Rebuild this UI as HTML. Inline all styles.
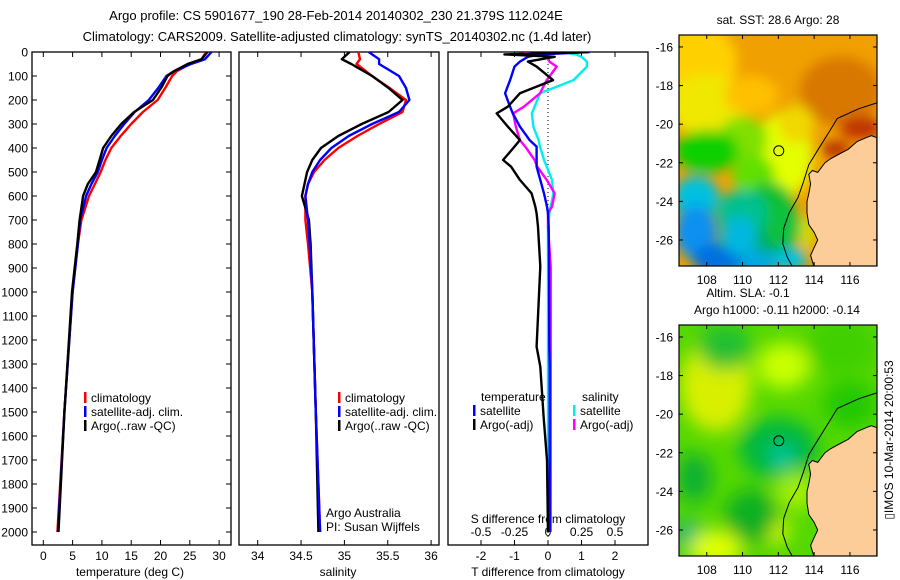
<!DOCTYPE html>
<html><head><meta charset="utf-8"><style>
html,body{margin:0;padding:0;background:#fff;}
svg{display:block;font-family:"Liberation Sans",sans-serif;}
</style></head><body>
<svg id="chart" width="900" height="580" viewBox="0 0 900 580" xmlns="http://www.w3.org/2000/svg">
<defs>
<clipPath id="c1"><rect x="32" y="52" width="199" height="493"/></clipPath>
<clipPath id="c2"><rect x="239" y="52" width="200" height="493"/></clipPath>
<clipPath id="c3"><rect x="448" y="52" width="200" height="493"/></clipPath>
<clipPath id="cm1"><rect x="679" y="35" width="198" height="231"/></clipPath>
<clipPath id="cm2"><rect x="679" y="325" width="198" height="231"/></clipPath>
<filter id="bl" x="-50%" y="-50%" width="200%" height="200%"><feGaussianBlur stdDeviation="6"/></filter>
<filter id="bl2" x="-50%" y="-50%" width="200%" height="200%"><feGaussianBlur stdDeviation="9"/></filter>
</defs>
<text x="336" y="20" font-size="13" text-anchor="middle">Argo profile: CS 5901677_190 28-Feb-2014 20140302_230 21.379S 112.024E</text>
<text x="337" y="41" font-size="13" text-anchor="middle">Climatology: CARS2009. Satellite-adjusted climatology: synTS_20140302.nc (1.4d later)</text>
<g id="p1"></g>
<g id="p2"></g>
<g id="p3"></g>
<g id="m1"></g>
<g id="m2"></g>
<text transform="translate(893,440) rotate(-90)" font-size="12" text-anchor="middle">▯IMOS 10-Mar-2014 20:00:53</text>
</svg>
<script>
// ---- data ----
const depthTicks=[0,100,200,300,400,500,600,700,800,900,1000,1100,1200,1300,1400,1500,1600,1700,1800,1900,2000];
const tempTicks=[0,5,10,15,20,25,30];
const salTicks=[34,34.5,35,35.5,36];
const tdiffTicks=[-2,-1,0,1,2];
const sdiffTicks=[-0.5,-0.25,0,0.25,0.5];
const sdiffLabels=["-0.5","-0.25","0","0.25","0.5"];
const tDepth=[0,30,50,80,100,150,200,250,300,350,400,450,500,550,600,700,800,1000,1500,2000];
const tClim=[27.8,27.0,25.0,22.8,22.0,20.8,19.5,17.0,15.0,13.2,11.6,10.6,9.8,8.8,7.8,6.5,5.9,5.0,3.6,2.4];
const tSat =[28.7,27.6,25.2,22.3,21.0,19.6,18.0,15.6,13.8,12.2,10.8,10.0,9.3,8.2,7.3,6.3,5.9,5.0,3.6,2.5];
const tArgo=[28.0,27.0,24.6,22.3,21.2,20.1,18.7,15.5,13.3,11.6,10.2,9.6,9.0,7.6,6.8,6.2,5.8,4.9,3.6,2.6];
const sDepth=[0,30,50,100,150,200,250,300,350,400,450,500,550,600,700,800,1000,1500,2000];
const sClim=[35.16,35.18,35.14,35.32,35.52,35.71,35.67,35.40,35.15,34.93,34.77,34.65,34.58,34.55,34.55,34.58,34.63,34.67,34.72];
const sSat =[35.28,35.40,35.40,35.63,35.71,35.75,35.63,35.32,35.05,34.85,34.72,34.63,34.58,34.55,34.58,34.60,34.63,34.67,34.72];
const sArgo=[35.06,34.97,35.08,35.32,35.51,35.67,35.51,35.20,34.93,34.73,34.63,34.57,34.54,34.51,34.59,34.61,34.63,34.67,34.70];
const dDepth=[0,10,20,40,61,117,172,228,256,311,367,394,450,478,533,589,644,672,728,894,1228,1311,1519,1700,2000];
const dtArgo=[1.2,-1.3,0.2,-0.6,-0.34,0.15,-0.84,-1.2,-1.53,-1.2,-0.84,-1.0,-1.34,-1.1,-0.84,-0.49,-0.38,-0.34,-0.3,-0.23,-0.34,-0.23,-0.13,-0.03,0.0];
const dtSat =[1.25,-0.23,-0.6,-0.84,-1.0,-1.13,-1.28,-1.13,-1.05,-0.84,-0.55,-0.34,-0.34,-0.34,-0.23,-0.12,-0.03,0.0,0.02,0.03,0.04,0.05,0.05,0.05,0.05];
const dsSat =[0.11,0.21,0.25,0.29,0.29,0.19,-0.06,-0.1,-0.12,-0.11,-0.07,-0.06,-0.03,-0.01,0.03,0.04,0.02,0.01,0.0,0.0,0.0,0.0,0.0,0.0,0.0];
const dsArgo=[-0.18,-0.1,0.0,0.01,0.065,-0.01,-0.06,-0.18,-0.26,-0.24,-0.21,-0.17,-0.1,-0.08,-0.01,0.05,0.03,0.0,0.0,0.02,0.02,0.02,0.02,0.02,0.02];
const lonTicks=[108,110,112,114,116];
const latTicks=[-16,-18,-20,-22,-24,-26];
const argoLon=[112.024], argoLat=[-21.379];
const coast=[[117.5,-20.7],[117.2,-20.6],[116.9,-20.7],[116.4,-20.9],[115.9,-21.3],[115.3,-21.6],[114.9,-21.8],[114.6,-22.0],[114.2,-22.5],[113.9,-22.4],[113.7,-22.6],[113.8,-23.1],[113.7,-23.6],[113.6,-24.0],[113.6,-24.6],[113.7,-25.2],[114.0,-25.6],[114.2,-26.0],[114.0,-26.4],[113.8,-26.8],[114.0,-27.4],[117.5,-27.4]];
const shelf=[[117.5,-18.9],[116.5,-19.2],[115.3,-19.7],[114.9,-20.3],[114.3,-21.2],[113.7,-22.1],[113.4,-23.0],[113.1,-23.8],[112.6,-24.6],[112.3,-25.4],[112.25,-26.2],[112.5,-26.9],[112.8,-27.4]];

const S=document.getElementById('chart');
const NS='http://www.w3.org/2000/svg';
function mk(parent,tag,attrs,txt){const e=document.createElementNS(NS,tag);for(const k in attrs)e.setAttribute(k,attrs[k]);if(txt!==undefined)e.textContent=txt;parent.appendChild(e);return e;}
const yD=d=>52+0.24*d;
const xT=t=>43.3+5.86*t;
const xS=s=>257.7+86.7*(s-34);
const xdT=t=>548+33.5*t;
const xdS=s=>548+134*s;

function frame(g,x0,x1,name){const r=mk(g,'rect',{x:x0,y:52,width:x1-x0,height:493,fill:'none',stroke:'#000','stroke-width':1.3});}
function xaxis(g,ticks,fx,labels,ly){ticks.forEach((t,i)=>{const x=fx(t);mk(g,'line',{x1:x,x2:x,y1:52,y2:57,stroke:'#000'});mk(g,'line',{x1:x,x2:x,y1:540,y2:545,stroke:'#000'});const tx=mk(g,'text',{x:x,y:ly,'font-size':12,'text-anchor':'middle'},labels?labels[i]:String(t));});}
function line(g,xs,ds,fx,color,w,clip,name){const p=xs.map((v,i)=>fx(v).toFixed(1)+','+yD(ds[i]).toFixed(1)).join(' ');const e=mk(g,'polyline',{points:p,fill:'none',stroke:color,'stroke-width':w,'clip-path':'url(#'+clip+')','stroke-linejoin':'round'});}
function legend(g,x,y,items){items.forEach((it,i)=>{mk(g,'rect',{x:x,y:y+i*14-10,width:2.5,height:11,fill:it[1]});const t=mk(g,'text',{x:x+7,y:y+i*14,'font-size':12},it[0]);});}

// Panel 1
const p1=document.getElementById('p1');
frame(p1,32,231,'temperature-plot-frame');
depthTicks.forEach(d=>{const y=yD(d);mk(p1,'line',{x1:32,x2:37,y1:y,y2:y,stroke:'#000'});mk(p1,'line',{x1:226,x2:231,y1:y,y2:y,stroke:'#000'});const t=mk(p1,'text',{x:28,y:y+4.5,'font-size':12,'text-anchor':'end'},String(d));});
xaxis(p1,tempTicks,xT,null,560);
const xl1=mk(p1,'text',{x:130,y:576,'font-size':12,'text-anchor':'middle'},'temperature (deg C)');
line(p1,tClim,tDepth,xT,'#f00',2.4,'c1','temp-climatology-line');
line(p1,tSat,tDepth,xT,'#00f',2.4,'c1','temp-satellite-line');
line(p1,tArgo,tDepth,xT,'#000',2.4,'c1','temp-argo-line');
legend(p1,84,402,[['climatology','#f00'],['satellite-adj. clim.','#00f'],['Argo(..raw -QC)','#000']]);

// Panel 2
const p2=document.getElementById('p2');
frame(p2,239,439,'salinity-plot-frame');
xaxis(p2,salTicks,xS,null,560);
const xl2=mk(p2,'text',{x:338,y:576,'font-size':12,'text-anchor':'middle'},'salinity');
line(p2,sClim,sDepth,xS,'#f00',2.4,'c2','sal-climatology-line');
line(p2,sArgo,sDepth,xS,'#000',2.4,'c2','sal-argo-line');
line(p2,sSat,sDepth,xS,'#00f',2.4,'c2','sal-satellite-line');
legend(p2,338,402,[['climatology','#f00'],['satellite-adj. clim.','#00f'],['Argo(..raw -QC)','#000']]);
let t=mk(p2,'text',{x:326,y:517,'font-size':12},'Argo Australia');
t=mk(p2,'text',{x:326,y:531,'font-size':12},'PI: Susan Wijffels');

// Panel 3
const p3=document.getElementById('p3');
frame(p3,448,648,'difference-plot-frame');
mk(p3,'line',{x1:548,x2:548,y1:52,y2:545,stroke:'#000','stroke-dasharray':'1,3'});
xaxis(p3,tdiffTicks,xdT,null,560);
sdiffTicks.forEach((s,i)=>{const tx=mk(p3,'text',{x:xdS(s),y:536,'font-size':12,'text-anchor':'middle'},sdiffLabels[i]);});
t=mk(p3,'text',{x:548,y:523,'font-size':12,'text-anchor':'middle'},'S difference from climatology');
t=mk(p3,'text',{x:548,y:576,'font-size':12,'text-anchor':'middle'},'T difference from climatology');
line(p3,dsSat,dDepth,xdS,'#0ee',2.4,'c3','sal-diff-satellite-line');
line(p3,dsArgo,dDepth,xdS,'#f0f',2.4,'c3','sal-diff-argo-line');
line(p3,dtSat,dDepth,xdT,'#00f',2.4,'c3','temp-diff-satellite-line');
line(p3,dtArgo,dDepth,xdT,'#000',2.4,'c3','temp-diff-argo-line');
t=mk(p3,'text',{x:481,y:401,'font-size':12},'temperature');
t=mk(p3,'text',{x:582,y:401,'font-size':12},'salinity');
legend(p3,473,415,[['satellite','#00f'],['Argo(-adj)','#000']]);
legend(p3,573,415,[['satellite','#0ee'],['Argo(-adj)','#f0f']]);

// Maps
function map(gid,y0,clip,blobs,bg,titles,filt){
  const g=document.getElementById(gid);
  const fx=lon=>679+(lon-106.45)*17.9, fy=lat=>y0+(-15.38-lat)*19.3;
  mk(g,'rect',{x:679,y:y0,width:198,height:231,fill:bg});
  const bgg=mk(g,'g',{'clip-path':'url(#'+clip+')'});
  const inner=mk(bgg,'g',{filter:'url(#'+filt+')'});
  blobs.forEach(b=>mk(inner,'ellipse',{cx:fx(b[0]),cy:fy(b[1]),rx:b[2]*17.9,ry:b[3]*19.3,fill:b[4]}));
  const cg=mk(g,'g',{'clip-path':'url(#'+clip+')'});
  const land=mk(cg,'polygon',{points:coast.map(p=>fx(p[0]).toFixed(1)+','+fy(p[1]).toFixed(1)).join(' '),fill:'#fccc99',stroke:'#000','stroke-width':1});
  
  mk(cg,'polyline',{points:shelf.map(p=>fx(p[0]).toFixed(1)+','+fy(p[1]).toFixed(1)).join(' '),fill:'none',stroke:'#000','stroke-width':1});
  const c=mk(g,'circle',{cx:fx(argoLon[0]),cy:fy(argoLat[0]),r:5,fill:'none',stroke:'#000','stroke-width':1});
  
  mk(g,'rect',{x:679,y:y0,width:198,height:231,fill:'none',stroke:'#000','stroke-width':1.2});
  lonTicks.forEach(l=>{const x=fx(l);mk(g,'line',{x1:x,x2:x,y1:y0,y2:y0+4,stroke:'#000'});mk(g,'line',{x1:x,x2:x,y1:y0+227,y2:y0+231,stroke:'#000'});const tx=mk(g,'text',{x:x,y:y0+249,'font-size':12,'text-anchor':'middle'},String(l));});
  latTicks.forEach(l=>{const y=fy(l);mk(g,'line',{x1:679,x2:683,y1:y,y2:y,stroke:'#000'});mk(g,'line',{x1:873,x2:877,y1:y,y2:y,stroke:'#000'});const tx=mk(g,'text',{x:673,y:y+4.5,'font-size':12,'text-anchor':'end'},String(l));});
  titles.forEach((tt,i)=>{const tx=mk(g,'text',{x:tt[1],y:tt[2],'font-size':12,'text-anchor':'middle'},tt[0]);});
}
map('m1',35,'cm1',[
 [107.5,-16.8,2.2,2,'#ffd000'],[108,-19,2.2,1.6,'#f0e800'],[110.5,-18.5,1.5,1,'#ffc000'],
 [115.5,-18.3,2.3,1.8,'#d87800'],[116.6,-20.2,1.2,0.6,'#c03000'],[115.2,-21.3,0.8,0.4,'#b02800'],
 [112.3,-21.6,1.6,2.2,'#e4ff00'],[113,-20,1,1,'#f0d800'],
 [110,-20.8,1.4,1.2,'#80e000'],[108,-21.4,1.8,1.1,'#10d000'],[110.6,-22.6,1.2,1,'#60e000'],
 [111.5,-24.3,1.4,1.3,'#10c030'],[110,-24.6,1.4,1.2,'#00c090'],
 [111,-26.5,1.6,1.1,'#00b060'],[112.3,-25.3,1,1.1,'#10c040'],[110.5,-27.2,1.5,0.7,'#00a8e0'],
 [107.4,-23.8,1.3,1.1,'#00c0e0'],[107.4,-25.6,1.2,1.4,'#1090f0'],[108.6,-27,1.4,0.8,'#0070e0'],
 [109.8,-25.8,1,1,'#00b8e0'],[112.7,-27,0.9,0.6,'#00c0e0'],[113.6,-25.6,0.4,0.9,'#d0e000']
],'#f0a000',[['sat. SST: 28.6 Argo: 28',778,24]],'bl');
map('m2',325,'cm2',[
 [108.7,-19.3,1.4,1.6,'#ffd000'],[108.5,-18.5,2,2.4,'#d8f000'],[112,-21.8,2.2,1.6,'#00b840'],[112.2,-22.2,0.7,0.6,'#00c8a0'],
 [109,-16.5,1.5,1.2,'#20c030'],[112.3,-17.5,1.5,1.2,'#c8ff00'],[107,-26.3,0.8,0.8,'#00b080'],[108.5,-27,1.5,1,'#e0ff00'],
 [111.8,-26,0.8,0.7,'#e8ff00'],[110.5,-25.3,1.5,1.4,'#10b020'],[115.5,-16.5,2,1.5,'#40d000'],[116,-19.5,1.5,1.2,'#20c800'],
 [107.3,-23.3,1,1.3,'#10b030'],[113,-24,1.2,1,'#a0f000']
],'#55d800',[['Altim. SLA: -0.1',748,297],['Argo h1000: -0.11 h2000: -0.14',777,314]],'bl2');
</script>
</body></html>
